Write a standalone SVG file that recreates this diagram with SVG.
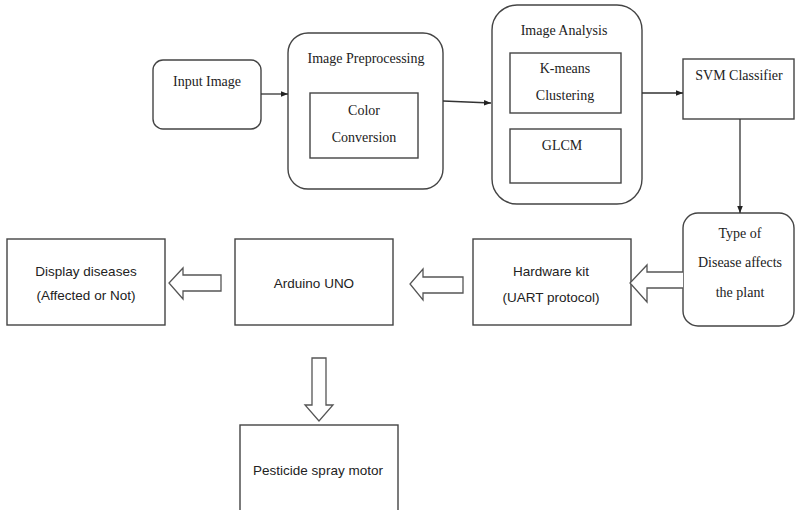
<svg xmlns="http://www.w3.org/2000/svg" width="795" height="510" viewBox="0 0 795 510">
<defs>
<style>
.box{fill:#fff;stroke:#444;stroke-width:1.4}
.ser{font-family:"Liberation Serif","Times New Roman",serif;font-size:14px;fill:#222;text-anchor:middle}
.san{font-family:"Liberation Sans",Arial,sans-serif;font-size:13.5px;fill:#222;text-anchor:middle}
.line{fill:none;stroke:#333;stroke-width:1.3}
.block{fill:#fff;stroke:#555;stroke-width:1.3}
</style>
<marker id="ah" viewBox="0 0 10 10" refX="10" refY="5" markerWidth="7" markerHeight="7" orient="auto" markerUnits="userSpaceOnUse">
<path d="M0,1 L10,5 L0,9 z" fill="#222"/>
</marker>
</defs>
<rect width="795" height="510" fill="#fff"/>

<g id="input-image">
<rect class="box" x="153" y="60" width="108" height="69" rx="10"/>
<text class="ser" x="207" y="86">Input Image</text>
</g>

<g id="image-preprocessing">
<rect class="box" x="288" y="33" width="155" height="156" rx="20"/>
<text class="ser" x="366" y="63">Image Preprocessing</text>
<g id="color-conversion">
<rect class="box" x="310" y="93" width="108" height="65"/>
<text class="ser" x="364" y="115">Color</text>
<text class="ser" x="364" y="142">Conversion</text>
</g>
</g>

<g id="image-analysis">
<rect class="box" x="492" y="5" width="150" height="199" rx="25"/>
<text class="ser" x="564" y="35">Image Analysis</text>
<g id="kmeans">
<rect class="box" x="510" y="53" width="111" height="60"/>
<text class="ser" x="565" y="73">K-means</text>
<text class="ser" x="565" y="100">Clustering</text>
</g>
<g id="glcm">
<rect class="box" x="510" y="129" width="111" height="54"/>
<text class="ser" x="562" y="150">GLCM</text>
</g>
</g>

<g id="svm-classifier">
<rect class="box" x="683" y="59" width="111" height="60"/>
<text class="ser" x="739" y="80">SVM Classifier</text>
</g>

<g id="type-of-disease">
<rect class="box" x="683" y="213" width="111" height="113" rx="15"/>
<text class="ser" x="740" y="238">Type of</text>
<text class="ser" x="740" y="267">Disease affects</text>
<text class="ser" x="740" y="297">the plant</text>
</g>

<g id="hardware-kit">
<rect class="box" x="473" y="239" width="158" height="86"/>
<text class="san" x="551" y="276">Hardware kit</text>
<text class="san" x="551" y="302">(UART protocol)</text>
</g>

<g id="arduino-uno">
<rect class="box" x="235" y="239" width="158" height="86"/>
<text class="san" x="314" y="288">Arduino UNO</text>
</g>

<g id="display-diseases">
<rect class="box" x="7" y="239" width="158" height="86"/>
<text class="san" x="86" y="276">Display diseases</text>
<text class="san" x="86" y="300">(Affected or Not)</text>
</g>

<g id="pesticide-spray-motor">
<rect class="box" x="240" y="425" width="158" height="100"/>
<text class="san" x="318" y="475">Pesticide spray motor</text>
</g>

<g id="connectors">
<line class="line" x1="261" y1="94" x2="288" y2="94" marker-end="url(#ah)"/>
<line class="line" x1="443" y1="101" x2="491" y2="103" marker-end="url(#ah)"/>
<line class="line" x1="642" y1="93" x2="683" y2="93" marker-end="url(#ah)"/>
<line class="line" x1="740" y1="119" x2="740" y2="213" marker-end="url(#ah)"/>
<path class="block" d="M683,272 L647,272 L647,265 L630,283 L647,302 L647,288 L683,288"/>
<path class="block" d="M463,277 L423,277 L423,269 L410,284 L423,300 L423,293 L463,293 z"/>
<path class="block" d="M221,275 L183,275 L183,268 L169,283 L183,299 L183,291 L221,291 z"/>
<path class="block" d="M312,358 L326,358 L326,405 L333,405 L319,421 L305,405 L312,405 z"/>
</g>
</svg>
